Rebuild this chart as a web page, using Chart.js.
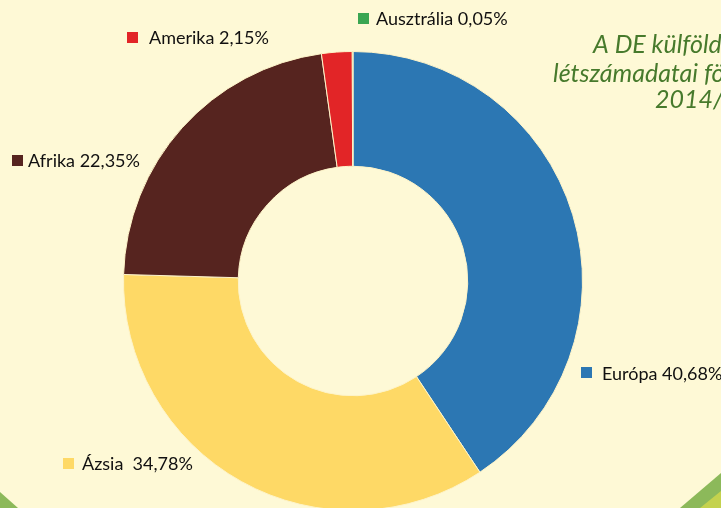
<!DOCTYPE html>
<html>
<head>
<meta charset="utf-8">
<script src="https://cdn.jsdelivr.net/npm/chart.js@4"></script>
<style>
  html, body { margin: 0; padding: 0; background: #fef9d6; overflow: hidden; }
  #wrap { position: relative; width: 721px; height: 508px; overflow: hidden; background: #fef9d6; }
  #deco { position: absolute; left: 0; top: 0; }
  #c { position: absolute; left: 0; top: 0; }
</style>
</head>
<body>
<div id="wrap">
  <svg id="deco" width="721" height="508">
    <polygon points="0,492 0,508 18,508" fill="#8cb95a"/>
    <polygon points="680,508 721,473 721,508" fill="#8cb95a"/>
    <polygon points="700,508 721,491 721,508" fill="#c4d24e"/>
  </svg>
  <canvas id="c" width="721" height="562" style="width:721px;height:562px"></canvas>
</div>
<script>
const categories = ["Európa", "Ázsia", "Afrika", "Amerika", "Ausztrália"];
const percentages = [40.68, 34.78, 22.35, 2.15, 0.05];
const valueLabels = ["40,68%", "34,78%", "22,35%", "2,15%", "0,05%"];
const labelSeparators = [" ", "  ", " ", " ", " "];
const sliceColors = ["#2c77b3", "#fed966", "#56241f", "#e22527", "#3aa652"];
const titleLines = ["A DE külföldi hallgatóinak", "létszámadatai földrészenként", "2014/2015"];

// label layout: marker square top-left and text start / baseline (pixels)
const labelLayout = [
  { sx: 581, sy: 367, tx: 602, ty: 380 },
  { sx: 63,  sy: 458, tx: 82,  ty: 470 },
  { sx: 12,  sy: 155, tx: 28,  ty: 167 },
  { sx: 127, sy: 32,  tx: 149, ty: 44 },
  { sx: 358, sy: 13,  tx: 376, ty: 25 }
];
const titleLayout = [
  { x: 593, y: 53 },
  { x: 553, y: 82 },
  { x: 655, y: 108 }
];

const labelPlugin = {
  id: 'outsideLabels',
  afterDraw(chart) {
    const ctx = chart.ctx;
    ctx.save();
    ctx.textBaseline = 'alphabetic';
    ctx.textAlign = 'left';
    ctx.font = '18px Lato, "Open Sans", sans-serif';
    categories.forEach((name, i) => {
      const l = labelLayout[i];
      ctx.fillStyle = sliceColors[i];
      ctx.fillRect(l.sx, l.sy, 11, 11);
      ctx.fillStyle = '#111010';
      ctx.fillText(name + labelSeparators[i] + valueLabels[i], l.tx, l.ty);
    });
    ctx.font = 'italic 25px Lato, "Open Sans", sans-serif';
    ctx.fillStyle = '#477a2c';
    titleLines.forEach((t, i) => {
      ctx.fillText(t, titleLayout[i].x, titleLayout[i].y);
    });
    ctx.restore();
  }
};

new Chart(document.getElementById('c'), {
  type: 'doughnut',
  data: {
    labels: categories,
    datasets: [{
      data: percentages,
      backgroundColor: sliceColors,
      borderColor: '#fdf3c8',
      borderWidth: 1,
      hoverOffset: 0
    }]
  },
  options: {
    responsive: false,
    animation: false,
    cutout: '50%',
    rotation: 0,
    layout: { padding: { left: 0, right: 15, top: 51, bottom: 51 } },
    plugins: {
      legend: { display: false },
      tooltip: { enabled: false },
      title: { display: false }
    }
  },
  plugins: [labelPlugin]
});
</script>
</body>
</html>
